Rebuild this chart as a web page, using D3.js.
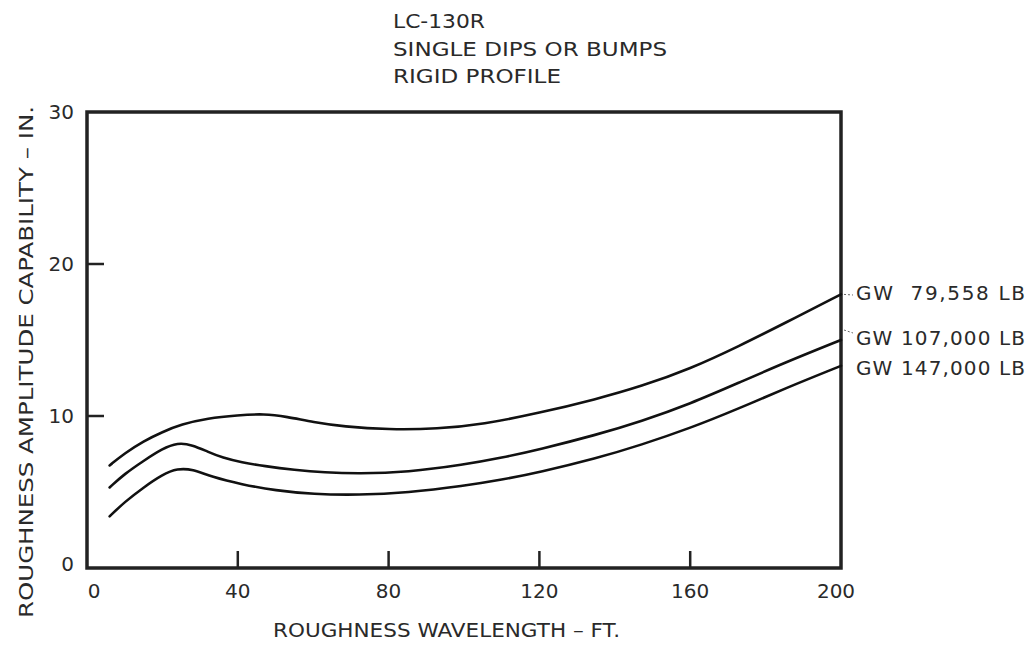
<!DOCTYPE html>
<html>
<head>
<meta charset="utf-8">
<script src="https://cdn.jsdelivr.net/npm/d3@7"></script>
<style>
  html, body { margin: 0; padding: 0; background: #fff; }
  svg { display: block; }
  text { font-family: "DejaVu Sans", Lato, sans-serif; fill: #2a2a2a; }
</style>
</head>
<body>
<svg id="chart" width="1033" height="645"></svg>
<script>
// ---- data ----
const titleLines = ["LC-130R", "SINGLE DIPS OR BUMPS", "RIGID PROFILE"];
const xLabel = "ROUGHNESS WAVELENGTH \u2013 FT.";
const yLabel = "ROUGHNESS AMPLITUDE CAPABILITY \u2013 IN.";
const xTicks = [0, 40, 80, 120, 160, 200];
const yTicks = [0, 10, 20, 30];
const seriesNames = ["GW  79,558 LB", "GW 107,000 LB", "GW 147,000 LB"];

const wave1 = [6, 10, 15, 20, 25, 32, 40, 47, 53, 60, 68, 80, 93, 105, 120, 135, 147, 160, 173, 185, 200];
const amp1  = [6.75, 7.55, 8.35, 8.95, 9.45, 9.85, 10.05, 10.15, 9.95, 9.6, 9.3, 9.1, 9.15, 9.45, 10.2, 11.1, 11.95, 13.1, 14.6, 16.1, 18.0];

const wave2 = [6, 10, 15, 20, 24, 28, 32, 36, 41, 47, 55, 63, 72, 85, 100, 110, 120, 135, 147, 160, 173, 185, 200];
const amp2  = [5.3, 6.2, 7.05, 7.85, 8.25, 8.1, 7.65, 7.25, 6.95, 6.7, 6.45, 6.28, 6.2, 6.3, 6.8, 7.25, 7.8, 8.75, 9.65, 10.8, 12.2, 13.5, 15.0];

const wave3 = [6, 10, 15, 20, 24, 28, 33, 41, 50, 60, 72, 85, 100, 110, 120, 135, 147, 160, 173, 185, 200];
const amp3  = [3.4, 4.35, 5.3, 6.15, 6.55, 6.5, 6.0, 5.5, 5.1, 4.85, 4.8, 4.95, 5.4, 5.8, 6.3, 7.2, 8.1, 9.2, 10.5, 11.8, 13.3];

// ---- layout ----
const svg = d3.select("#chart");
const mLeft = 87, mRight = 841, mTop = 112, mBottom = 568;
const x = d3.scaleLinear().domain([0, 200]).range([mLeft, mRight]);
const y = d3.scaleLinear().domain([0, 30]).range([mBottom, mTop]);
const FS = 20;

// title
const titleY = [28, 56, 83];
const titleW = [92, 274, 168];
svg.append("g").selectAll("text").data(titleLines).join("text")
  .attr("x", 393)
  .attr("y", (d, i) => titleY[i])
  .attr("font-size", FS)
  .attr("textLength", (d, i) => titleW[i])
  .attr("lengthAdjust", "spacingAndGlyphs")
  .text(d => d);

// ticks (inward)
const tickLen = 17;
svg.append("g").selectAll("line").data(yTicks.filter(d => d > 0 && d < 30)).join("line")
  .attr("x1", mLeft).attr("x2", mLeft + tickLen)
  .attr("y1", d => y(d)).attr("y2", d => y(d))
  .attr("stroke", "#222").attr("stroke-width", 2.5);
svg.append("g").selectAll("line").data(xTicks.filter(d => d > 0 && d < 200)).join("line")
  .attr("x1", d => x(d)).attr("x2", d => x(d))
  .attr("y1", mBottom).attr("y2", mBottom - tickLen)
  .attr("stroke", "#222").attr("stroke-width", 2.5);

// frame
svg.append("rect")
  .attr("x", mLeft).attr("y", mTop)
  .attr("width", mRight - mLeft).attr("height", mBottom - mTop)
  .attr("fill", "none").attr("stroke", "#222").attr("stroke-width", 3.5);

// tick labels
svg.append("g").selectAll("text").data(xTicks).join("text")
  .attr("x", d => x(d) + (d === 0 ? 7 : d === 200 ? -5 : 0))
  .attr("y", 598)
  .attr("text-anchor", "middle")
  .attr("font-size", FS)
  .text(d => d);
svg.append("g").selectAll("text").data(yTicks).join("text")
  .attr("x", 74)
  .attr("y", d => y(d) + 7 - (d === 0 ? 4 : 0))
  .attr("text-anchor", "end")
  .attr("font-size", FS)
  .text(d => d);

// axis titles
svg.append("text")
  .attr("x", 273).attr("y", 637)
  .attr("font-size", FS)
  .attr("textLength", 347)
  .attr("lengthAdjust", "spacingAndGlyphs")
  .text(xLabel);
svg.append("text")
  .attr("transform", "translate(33, 618) rotate(-90)")
  .attr("font-size", FS)
  .attr("textLength", 512)
  .attr("lengthAdjust", "spacingAndGlyphs")
  .text(yLabel);

// curves
const line = d3.line()
  .x(d => x(d[0])).y(d => y(d[1]))
  .curve(d3.curveBasis);
const series = [
  { name: seriesNames[0], pts: d3.zip(wave1, amp1) },
  { name: seriesNames[1], pts: d3.zip(wave2, amp2) },
  { name: seriesNames[2], pts: d3.zip(wave3, amp3) }
];
svg.append("g").selectAll("path").data(series).join("path")
  .attr("d", d => line(d.pts))
  .attr("fill", "none").attr("stroke", "#111").attr("stroke-width", 2.6)
  .attr("stroke-linecap", "round");

// series labels
const labelY = [300, 345, 375];
svg.append("g").selectAll("text").data(series).join("text")
  .attr("x", 856)
  .attr("y", (d, i) => labelY[i])
  .attr("font-size", FS)
  .attr("textLength", 169)
  .attr("lengthAdjust", "spacing")
  .attr("xml:space", "preserve")
  .style("white-space", "pre")
  .text(d => d.name);

// faint leader dashes from curve ends to the first two labels
svg.append("g").selectAll("line").data(series.slice(0, 2)).join("line")
  .attr("x1", d => x(d.pts[d.pts.length - 1][0]) + 3)
  .attr("y1", (d, i) => y(d.pts[d.pts.length - 1][1]) + (i === 0 ? 0 : -10))
  .attr("x2", 853)
  .attr("y2", (d, i) => labelY[i] - (i === 0 ? 5 : 12))
  .attr("stroke", "#666").attr("stroke-width", 1)
  .attr("stroke-dasharray", "2,2");
</script>
</body>
</html>
